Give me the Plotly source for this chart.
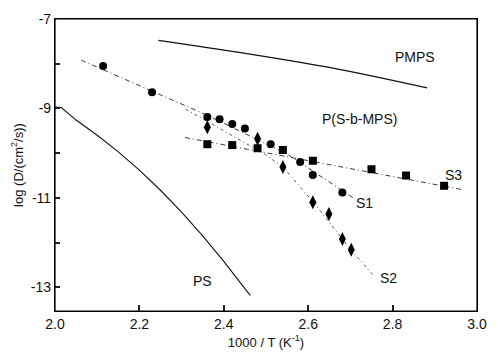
import plotly.graph_objects as go

# ---- data ----
s1_x = [2.114, 2.230, 2.361, 2.390, 2.420, 2.450, 2.511, 2.581, 2.611, 2.681]
s1_y = [-8.05, -8.64, -9.19, -9.24, -9.35, -9.45, -9.80, -10.20, -10.49, -10.88]

s2_x = [2.361, 2.480, 2.540, 2.611, 2.649, 2.681, 2.702]
s2_y = [-9.42, -9.68, -10.31, -11.10, -11.36, -11.92, -12.16]

s3_x = [2.361, 2.420, 2.480, 2.540, 2.611, 2.750, 2.832, 2.922]
s3_y = [-9.80, -9.82, -9.89, -9.93, -10.17, -10.36, -10.50, -10.73]

fit1_x = [2.062, 2.360, 2.550, 2.710]
fit1_y = [-7.92, -9.15, -10.02, -11.02]

fit2_x = [2.310, 2.352, 2.498, 2.540, 2.611, 2.700, 2.756]
fit2_y = [-9.02, -9.24, -10.03, -10.31, -11.08, -12.15, -12.75]

fit3_x = [2.308, 2.968]
fit3_y = [-9.65, -10.82]

pmps_x = [2.245, 2.451, 2.670, 2.882]
pmps_y = [-7.48, -7.77, -8.12, -8.54]

ps_x = [2.000, 2.015, 2.050, 2.100, 2.150, 2.200, 2.250, 2.300, 2.350, 2.400, 2.450, 2.463]
ps_y = [-8.97, -8.98, -9.26, -9.60, -9.97, -10.38, -10.83, -11.32, -11.85, -12.42, -13.03, -13.18]

x_ticks = [2.0, 2.2, 2.4, 2.6, 2.8, 3.0]
x_ticktext = ["2.0", "2.2", "2.4", "2.6", "2.8", "3.0"]
y_ticks = [-7, -8, -9, -10, -11, -12, -13]
y_ticktext = ["-7", " ", "-9", " ", "-11", " ", "-13"]

labels = ["PMPS", "P(S-b-MPS)", "S3", "S1", "S2", "PS"]
label_x = [2.852, 2.722, 2.944, 2.734, 2.790, 2.350]
label_y = [-7.86, -9.24, -10.49, -11.12, -12.79, -12.86]

FONT = "Liberation Sans, Arial, sans-serif"
INK = "#111111"

fig = go.Figure()

line_style = dict(color="#3a3a3a", width=1, dash="5px,3px,1px,3px")
fig.add_trace(go.Scatter(x=fit1_x, y=fit1_y, mode="lines", line=line_style, hoverinfo="skip"))
fig.add_trace(go.Scatter(x=fit2_x, y=fit2_y, mode="lines",
                         line=dict(color="#555555", width=1, dash="3px,3px,1px,3px"), hoverinfo="skip"))
fig.add_trace(go.Scatter(x=fit3_x, y=fit3_y, mode="lines", line=line_style, hoverinfo="skip"))

fig.add_trace(go.Scatter(x=pmps_x, y=pmps_y, mode="lines", line=dict(color=INK, width=1.2, shape="spline")))
fig.add_trace(go.Scatter(x=ps_x, y=ps_y, mode="lines", line=dict(color=INK, width=1.1)))

fig.add_trace(go.Scatter(x=s3_x, y=s3_y, mode="markers",
                         marker=dict(symbol="square", size=8, color="black")))
fig.add_trace(go.Scatter(x=s2_x, y=s2_y, mode="markers",
                         marker=dict(symbol="diamond-tall", size=10, color="black")))
fig.add_trace(go.Scatter(x=s1_x, y=s1_y, mode="markers",
                         marker=dict(symbol="circle", size=8, color="black")))

for t, xx, yy in zip(labels, label_x, label_y):
    fig.add_annotation(x=xx, y=yy, xref="x", yref="y", text=t, showarrow=False,
                       font=dict(family=FONT, size=14, color=INK))

# plot frame
fig.add_shape(type="rect", xref="paper", yref="paper", x0=0, y0=0, x1=1, y1=1,
              line=dict(color="black", width=1.2), layer="above")

fig.update_xaxes(range=[2.0, 3.0], tickvals=x_ticks, ticktext=x_ticktext,
                 showline=True, linecolor="black", linewidth=1.2, mirror=True,
                 ticks="inside", ticklen=6, tickwidth=1.5, tickcolor="#222222",
                 showgrid=False, zeroline=False,
                 tickfont=dict(family=FONT, size=14, color=INK),
                 title=dict(text="1000 / T (K<sup>-1</sup>)", font=dict(family=FONT, size=13, color=INK),
                            standoff=6))
fig.update_yaxes(range=[-13.53, -7.0], tickvals=y_ticks, ticktext=y_ticktext,
                 showline=True, linecolor="black", linewidth=1.2, mirror=True,
                 ticks="inside", ticklen=5, tickwidth=1.5, tickcolor="#222222",
                 showgrid=False, zeroline=False,
                 tickfont=dict(family=FONT, size=14, color=INK),
                 title=dict(text="log (D/(cm<sup>2</sup>/s))", font=dict(family=FONT, size=13, color=INK),
                            standoff=4))

fig.update_layout(width=498, height=358, showlegend=False,
                  margin=dict(l=55, r=11, t=13, b=47),
                  paper_bgcolor="white", plot_bgcolor="white")

fig.write_html("out.html", config={"displayModeBar": False},
               post_script="document.body.style.margin='0';document.body.style.padding='0';")
